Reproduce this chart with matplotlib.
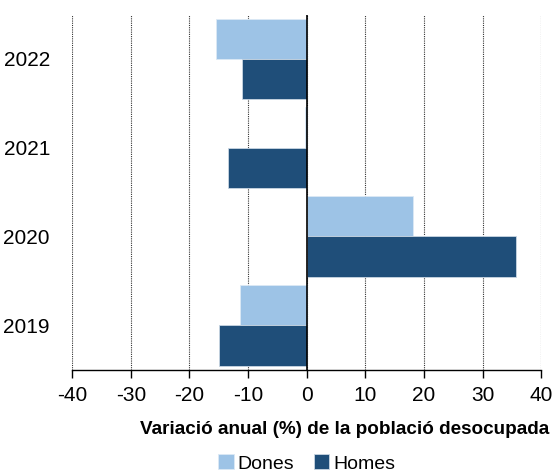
import matplotlib.pyplot as plt
import numpy as np

years = ["2019", "2020", "2021", "2022"]
dones = [-11.45, 18.2, -0.3, -15.45]
homes = [-15.0, 35.7, -13.4, -11.0]

light = "#9DC3E6"
dark = "#1F4E79"

plt.rcParams["font.family"] = ["Liberation Sans", "DejaVu Sans"]
plt.rcParams["axes.unicode_minus"] = False

fig = plt.figure(figsize=(5.55, 4.76), dpi=100)
ax = fig.add_axes([0.13, 0.2237, 0.845, 0.7458])

y = np.arange(len(years))
h = 0.455
ax.barh(y + h / 2, dones, height=h, color=light, edgecolor="#dce9f5", linewidth=0.6,
        label="Dones", zorder=3)
ax.barh(y - h / 2, homes, height=h, color=dark, edgecolor="#c9d6e3", linewidth=0.6,
        label="Homes", zorder=3)

ax.set_xlim(-40, 40)
ax.set_ylim(-0.5, 3.5)
ax.set_xticks(np.arange(-40, 41, 10))
ax.set_yticks(y)
ax.set_yticklabels(years)

ax.grid(axis="x", color="#333333", linestyle=(0, (1, 1)), linewidth=0.8, zorder=0)
ax.axvline(0, color="black", linewidth=1.2, zorder=4)

for s in ["top", "right", "left"]:
    ax.spines[s].set_visible(False)
ax.spines["bottom"].set_linewidth(1.0)
ax.tick_params(axis="y", length=0, pad=16, labelsize=15)
ax.tick_params(axis="x", length=6, width=1.0, direction="out", labelsize=15, pad=6)

ax.set_xlabel("Variació anual (%) de la població desocupada", fontsize=13.6,
              fontweight="bold", loc="right")
ax.xaxis.set_label_coords(1.017, -0.145)

ax.legend(loc="upper center", bbox_to_anchor=(0.5, -0.19), ncol=2, frameon=False,
          fontsize=14, handlelength=0.8, handleheight=0.8, handletextpad=0.2,
          columnspacing=1.0)

fig.savefig("out.png", dpi=100)
